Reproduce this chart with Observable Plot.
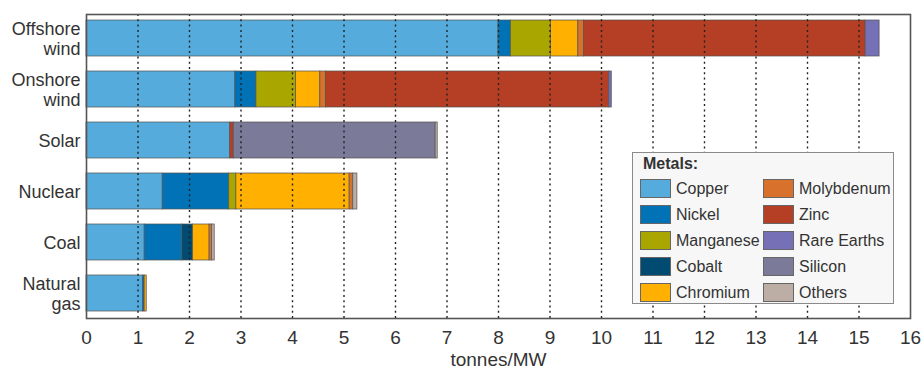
<!DOCTYPE html>
<html>
<head>
<meta charset="utf-8">
<script src="https://cdn.jsdelivr.net/npm/d3@7"></script>
<script src="https://cdn.jsdelivr.net/npm/@observablehq/plot@0.6"></script>
<style>
  html, body { margin: 0; padding: 0; background: #fff; }
  #wrap { position: relative; width: 921px; height: 369px; font-family: "Liberation Sans", Arial, sans-serif; }
  #legend { position: absolute; left: 632px; top: 152px; width: 262px; height: 152px; box-sizing: border-box;
    background: #f7f7f7; border: 1px solid #8a8a8a; color: #333; font-size: 16px; }
  #legend .title { position: absolute; left: 10px; top: 2px; font-weight: bold; }
  #legend .item { position: absolute; display: flex; align-items: center; white-space: nowrap; }
  #legend .sw { width: 29px; height: 17px; border: 1px solid #666; margin-right: 5px; flex: none; }
</style>
</head>
<body>
<div id="wrap"></div>
<script>
// ---- data ----
const sources = ["Offshore\nwind", "Onshore\nwind", "Solar", "Nuclear", "Coal", "Natural\ngas"];
const metals = ["Copper", "Nickel", "Manganese", "Cobalt", "Chromium", "Molybdenum", "Zinc", "Rare Earths", "Silicon", "Others"];
const metalColors = ["#55acdc", "#0072b5", "#a9a600", "#014b72", "#ffb000", "#d8712c", "#b43f25", "#7670b6", "#7b7b99", "#bcaea4"];
// tonnes/MW per source (order matches sources)
const copper      = [8.00, 2.89, 2.79, 1.48, 1.13, 1.10];
const nickel      = [0.24, 0.41, 0.00, 1.29, 0.73, 0.03];
const manganese   = [0.78, 0.77, 0.00, 0.14, 0.00, 0.00];
const cobalt      = [0.00, 0.00, 0.00, 0.00, 0.21, 0.00];
const chromium    = [0.53, 0.47, 0.00, 2.20, 0.32, 0.04];
const molybdenum  = [0.11, 0.11, 0.00, 0.07, 0.05, 0.00];
const zinc        = [5.47, 5.50, 0.07, 0.00, 0.00, 0.00];
const rareEarths  = [0.27, 0.05, 0.00, 0.00, 0.00, 0.00];
const silicon     = [0.00, 0.00, 3.92, 0.00, 0.00, 0.00];
const others      = [0.00, 0.00, 0.04, 0.08, 0.05, 0.00];
const xTicks = [0, 1, 2, 3, 4, 5, 6, 7, 8, 9, 10, 11, 12, 13, 14, 15, 16];
const gridTicks = [1, 2, 3, 4, 5, 6, 7, 8, 9, 10, 11, 12, 13, 14, 15];

const series = [copper, nickel, manganese, cobalt, chromium, molybdenum, zinc, rareEarths, silicon, others];
const rows = [];
metals.forEach((m, i) => sources.forEach((s, j) => {
  if (series[i][j] > 0) rows.push({source: s, metal: m, value: series[i][j]});
}));

const chart = Plot.plot({
  width: 921,
  height: 369,
  marginLeft: 86,
  marginRight: 11,
  marginTop: 14,
  marginBottom: 51,
  style: {fontFamily: "'Liberation Sans', Arial, sans-serif", color: "#333", background: "#fff"},
  x: {domain: [0, 16], ticks: xTicks},
  y: {domain: sources, paddingInner: 0.29, paddingOuter: 0.07},
  color: {domain: metals, range: metalColors},
  marks: [
    Plot.barX(rows, Plot.stackX({
      x: "value", y: "source", fill: "metal", order: metals,
      stroke: "#555", strokeWidth: 0.8, strokeOpacity: 0.9
    })),
    Plot.ruleX(gridTicks, {stroke: "#222", strokeWidth: 1.4, strokeDasharray: "2,3.3"}),
    Plot.frame({stroke: "#555", strokeWidth: 1.6}),
    Plot.axisY({tickSize: 0, tickPadding: 6, fontSize: 18, lineHeight: 1.1, label: null, fill: "#333"}),
    Plot.axisX({
      ticks: xTicks, tickSize: 0, tickPadding: 12, fontSize: 19,
      fontFamily: "'Liberation Sans Narrow', 'Liberation Sans', Arial, sans-serif",
      label: null, fill: "#333"
    }),
    Plot.axisX({
      ticks: [], label: "tonnes/MW", labelAnchor: "center", labelArrow: "none", labelOffset: 47,
      fontSize: 19, fontFamily: "'Liberation Sans Narrow', 'Liberation Sans', Arial, sans-serif", fill: "#333"
    })
  ]
});

const wrap = document.getElementById("wrap");
wrap.appendChild(chart);

// legend overlay
const lg = document.createElement("div");
lg.id = "legend";
const t = document.createElement("div");
t.className = "title";
t.textContent = "Metals:";
lg.appendChild(t);
metals.forEach((m, i) => {
  const col = Math.floor(i / 5), row = i % 5;
  const it = document.createElement("div");
  it.className = "item";
  it.style.left = (col === 0 ? 7 : 130) + "px";
  it.style.top = (26 + row * 26) + "px";
  const sw = document.createElement("span");
  sw.className = "sw";
  sw.style.background = metalColors[i];
  const lab = document.createElement("span");
  lab.textContent = m;
  it.appendChild(sw);
  it.appendChild(lab);
  lg.appendChild(it);
});
wrap.appendChild(lg);
</script>
</body>
</html>
